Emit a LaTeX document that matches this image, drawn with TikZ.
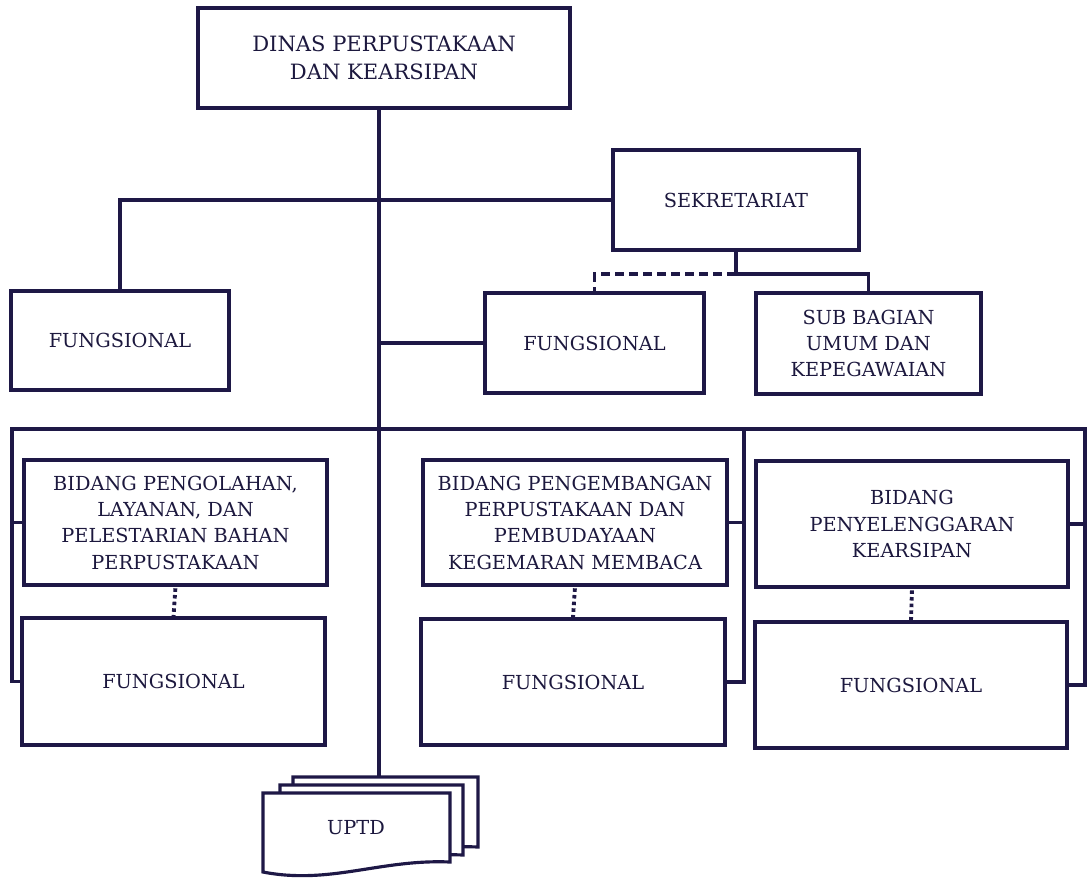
\documentclass[tikz,border=0pt]{standalone}
\usepackage{fontspec}
\setmainfont{DejaVu Serif}
\definecolor{linecol}{RGB}{30,24,70}
\definecolor{textcol}{RGB}{28,24,62}
\begin{document}
\begin{tikzpicture}[x=0.02cm,y=-0.02cm,
  box/.style={draw=linecol, line width=1.8pt, fill=white, align=center, inner sep=2pt,
    text=textcol, font=\fontsize{11}{15}\selectfont},
  conn/.style={draw=linecol, line width=1.8pt, line join=miter},
  dotconn/.style={draw=linecol, line width=2.2pt, dash pattern=on 2pt off 1.8pt, dash phase=-1pt},
  dashconn/.style={conn, dash pattern=on 5pt off 3pt},
  sheet/.style={draw=linecol, line width=1.8pt, fill=white, line join=miter}]
\useasboundingbox (0,0) rectangle (1089,880);

% boxes
\node[box, minimum width=7.44cm, minimum height=2cm, font=\fontsize{12}{16}\selectfont] (top) at (384,58) {DINAS PERPUSTAKAAN\\DAN KEARSIPAN};
\node[box, minimum width=4.92cm, minimum height=2cm] (sek) at (736,200) {SEKRETARIAT};
\node[box, minimum width=4.36cm, minimum height=1.98cm] (fungL) at (120,340.5) {FUNGSIONAL};
\node[box, minimum width=4.38cm, minimum height=2cm] (fungM) at (594.5,343) {FUNGSIONAL};
\node[box, minimum width=4.5cm, minimum height=2.02cm] (sub) at (868.5,343.5) {SUB BAGIAN\\UMUM DAN\\KEPEGAWAIAN};

\node[box, minimum width=6.06cm, minimum height=2.5cm] (bid1) at (175.5,522.5) {BIDANG PENGOLAHAN,\\LAYANAN, DAN\\PELESTARIAN BAHAN\\PERPUSTAKAAN};
\node[box, minimum width=6.06cm, minimum height=2.54cm] (f1) at (173.5,681.5) {FUNGSIONAL};
\node[box, minimum width=6.08cm, minimum height=2.5cm] (bid2) at (575,522.5) {BIDANG PENGEMBANGAN\\PERPUSTAKAAN DAN\\PEMBUDAYAAN\\KEGEMARAN MEMBACA};
\node[box, minimum width=6.08cm, minimum height=2.52cm] (f2) at (573,682) {FUNGSIONAL};
\node[box, minimum width=6.24cm, minimum height=2.52cm] (bid3) at (912,524) {BIDANG\\PENYELENGGARAN\\KEARSIPAN};
\node[box, minimum width=6.24cm, minimum height=2.52cm] (f3) at (911,685) {FUNGSIONAL};

% helper coordinates
\coordinate (m) at (379,0);
\coordinate (sj) at (0,274);
\coordinate (busL) at (12,429);
\coordinate (busM) at (744,429);
\coordinate (busR) at (1085,429);
\coordinate (uptdtop) at (379,777);

% UPTD stacked documents
\path[sheet] (293,777) -- (478,777) -- (478,847) .. controls (408,844) and (358,870) .. (293,857) -- cycle;
\path[sheet] (280,785) -- (463,785) -- (463,855) .. controls (393,852) and (343,878) .. (280,865) -- cycle;
\path[sheet] (263,793) -- (450,793) -- (450,862) .. controls (380,859) and (330,885) .. (263,872) -- cycle;
\node[text=textcol, font=\fontsize{11}{15}\selectfont] (uptd) at (356,828) {UPTD};

% connectors
\draw[conn] (top.south -| m) -- (uptdtop);
\draw[conn] (sek.west) -- (sek.west -| fungL) -- (fungL.north);
\draw[conn] (fungM.west) -- (fungM.west -| m);
\draw[conn] (sek.south) -- (sek.south |- sj) -| (sub.north);
\draw[dashconn] (sek.south |- sj) -| (fungM.north);

\draw[conn] (f1.west) -- (f1.west -| busL) -- (busL) -- (busR) -- (f3.east -| busR) -- (f3.east);
\draw[conn] (bid1.west) -- (bid1.west -| busL);
\draw[conn] (bid3.east) -- (bid3.east -| busR);
\draw[conn] (busM) -- (f2.east -| busM) -- (f2.east);
\draw[conn] (bid2.east) -- (bid2.east -| busM);

\draw[dotconn] (bid1.south) -- (f1.north);
\draw[dotconn] (bid2.south) -- (f2.north);
\draw[dotconn] (bid3.south) -- (f3.north);
\end{tikzpicture}
\end{document}
